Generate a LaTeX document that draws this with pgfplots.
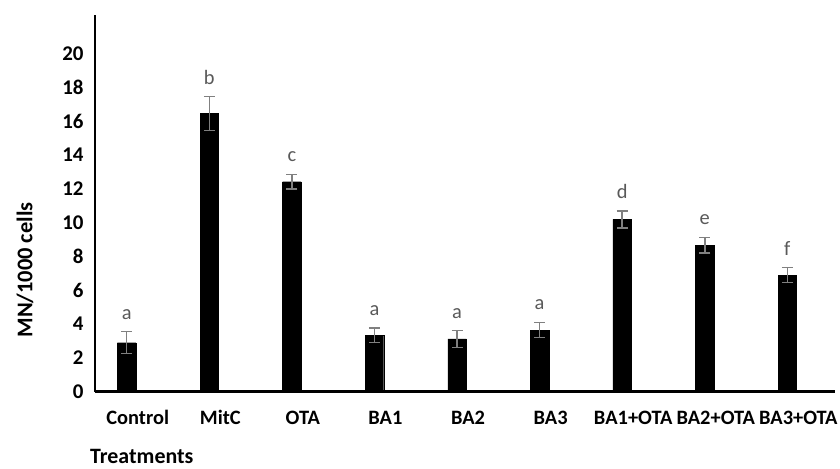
\documentclass[border=0pt]{standalone}
\usepackage{pgfplots}
\pgfplotsset{compat=1.18}
\usepackage{pgfplotstable}
\usepackage{fontspec}
\setmainfont{Carlito}

\definecolor{errgray}{HTML}{808080}
\definecolor{letgray}{HTML}{595959}

% Micronuclei per 1000 cells: mean, error, significance group
\pgfplotstableread{
x  y     err   lab
0  2.90  0.65  a
1  16.47 1.00  b
2  12.43 0.43  c
3  3.34  0.43  a
4  3.12  0.50  a
5  3.65  0.45  a
6  10.20 0.50  d
7  8.68  0.46  e
8  6.90  0.45  f
}\mndata

\begin{document}
\begin{tikzpicture}
\begin{axis}[
  scale only axis,
  width=740bp, height=376.7bp,
  xmin=-0.384, xmax=8.577,
  ymin=0, ymax=22.3,
  axis x line*=bottom, axis y line*=left,
  axis line style={line width=2.6bp, black},
  major tick length=0pt,
  xtick={0,...,8},
  xticklabels={Control,MitC,OTA,BA1,BA2,BA3,BA1+OTA,BA2+OTA,BA3+OTA},
  ytick={0,2,...,20},
  /pgf/number format/assume math mode=true,
  xticklabel style={font=\fontsize{20.5}{24}\selectfont\bfseries, anchor=base,
    yshift=-33bp, xshift=11bp},
  yticklabel style={font=\fontsize{21}{24}\selectfont\bfseries, xshift=-8bp},
  clip=false,
]
\addplot[ybar, bar width=18.5bp, bar shift=0pt, fill=black, draw=black,
  error bars/.cd, y dir=both, y explicit,
  error bar style={errgray, line width=1.5bp},
  error mark options={errgray, line width=1.5bp, mark size=5.5bp, rotate=90}]
  table[x=x, y=y, y error=err] {\mndata};
\addplot[draw=none, mark=none, nodes near coords, point meta=explicit symbolic,
  every node near coord/.style={anchor=base, yshift=12.5bp, text=letgray,
    font=\fontsize{20.5}{24}\selectfont}]
  table[x=x, y expr=\thisrow{y}+\thisrow{err}, meta=lab] {\mndata};
\node[rotate=90, font=\fontsize{22.5}{26}\selectfont\bfseries]
  at ([xshift=-70bp]rel axis cs:0,0.323) {MN/1000 cells};
\node[anchor=base west, inner sep=0pt, font=\fontsize{22}{26}\selectfont\bfseries]
  at ([xshift=-5bp, yshift=-72bp]rel axis cs:0,0) {Treatments};
\end{axis}
\pgfresetboundingbox
\path ([xshift=-95bp, yshift=-77.3bp]current axis.south west)
  rectangle ([xshift=5bp, yshift=15bp]current axis.north east);
\end{tikzpicture}
\end{document}
